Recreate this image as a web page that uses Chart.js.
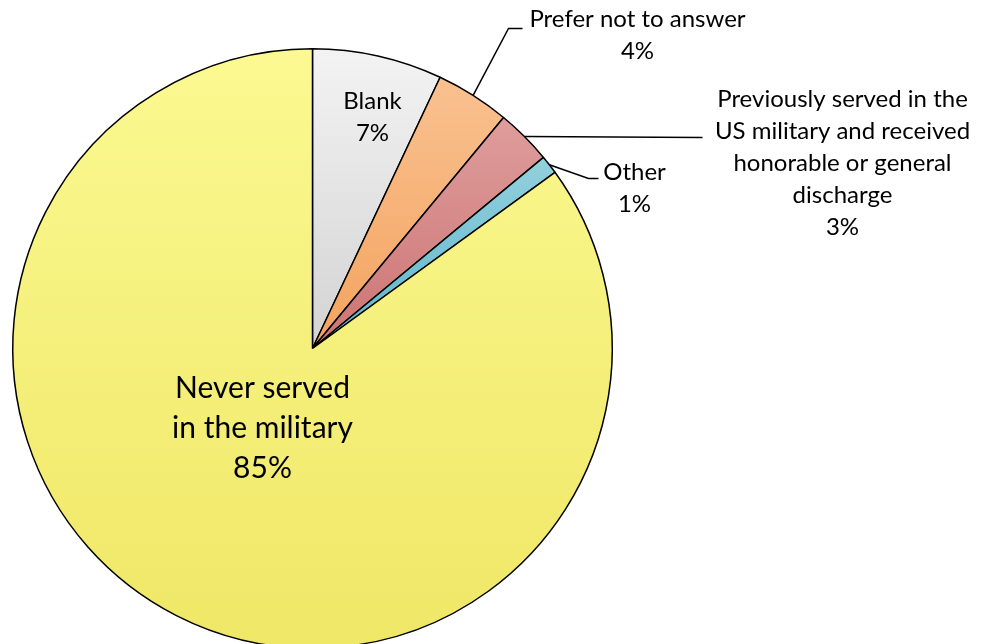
<!DOCTYPE html>
<html>
<head>
<meta charset="utf-8">
<script src="https://cdn.jsdelivr.net/npm/chart.js@4"></script>
<style>
    html, body { margin: 0; padding: 0; background: #fff; overflow: hidden; }
    #chartBox { width: 993px; height: 644px; overflow: hidden; }
</style>
</head>
<body>
<div id="chartBox">
    <canvas id="chart01" width="993" height="700"></canvas>
</div>
<script>
// categories and shares (percent) going clockwise from 12 o'clock
const categories = ['Blank', 'Prefer not to answer', 'Previously served in the US military and received honorable or general discharge', 'Other', 'Never served in the military'];
const shares = [7, 4, 3, 1, 85];
const labelLines = [
    ['Blank', '7%'],
    ['Prefer not to answer', '4%'],
    ['Previously served in the', 'US military and received', 'honorable or general', 'discharge', '3%'],
    ['Other', '1%'],
    ['Never served', 'in the military', '85%']
];

// top / bottom colours of each slice's vertical gradient
const topColors = ['#f3f3f3', '#f9c190', '#de9d9c', '#93d1dd', '#fbf991'];
const bottomColors = ['#d3d3d3', '#f4a35f', '#cd7373', '#5cb4cc', '#efe766'];

// text placement relative to the pie centre: [dx, dy] of the text block centre
const labelPos = [[60, -231], [325, -313], [530, -185], [322, -160], [-50, 80]];
// leader line bends (relative to centre), null = label sits inside the slice
const leaderBends = [null, [[196, -320], [210, -320]], [[390, -211]], [[276, -170], [286, -170]], null];
const fontSizes = [24, 24, 24, 24, 30];

function sliceGradient(context) {
    const chart = context.chart;
    const area = chart.chartArea;
    const i = context.dataIndex;
    if (!area) return topColors[i];
    const cx = (area.left + area.right) / 2;
    const cy = (area.top + area.bottom) / 2;
    const r = (Math.min(area.width, area.height) - 1) / 2;
    const total = shares.reduce((a, b) => a + b, 0);
    let start = 0;
    for (let k = 0; k < i; k++) start += shares[k];
    const a0 = start / total * Math.PI * 2;
    const a1 = (start + shares[i]) / total * Math.PI * 2;
    // vertical extent of the wedge
    let ys = [cy, cy - r * Math.cos(a0), cy - r * Math.cos(a1)];
    if (a0 <= 0 && a1 >= 0) ys.push(cy - r);
    if (a0 <= Math.PI && a1 >= Math.PI) ys.push(cy + r);
    if (a0 <= Math.PI * 2 && a1 >= Math.PI * 2) ys.push(cy - r);
    const y0 = Math.min(...ys);
    const y1 = Math.max(...ys);
    const g = chart.ctx.createLinearGradient(0, y0, 0, y1);
    g.addColorStop(0, topColors[i]);
    g.addColorStop(1, bottomColors[i]);
    return g;
}

const sliceLabels = {
    id: 'sliceLabels',
    afterDatasetsDraw(chart) {
        const ctx = chart.ctx;
        const meta = chart.getDatasetMeta(0);
        ctx.save();
        meta.data.forEach((arc, i) => {
            const cx = arc.x, cy = arc.y;
            const mid = (arc.startAngle + arc.endAngle) / 2;
            const ax = cx + Math.cos(mid) * arc.outerRadius;
            const ay = cy + Math.sin(mid) * arc.outerRadius;

            if (leaderBends[i]) {
                ctx.strokeStyle = '#000';
                ctx.lineWidth = 1.5;
                ctx.beginPath();
                ctx.moveTo(ax, ay);
                leaderBends[i].forEach(p => ctx.lineTo(cx + p[0], cy + p[1]));
                ctx.stroke();
            }

            const size = fontSizes[i];
            const lh = size * 1.33;
            const lines = labelLines[i];
            ctx.fillStyle = '#000';
            ctx.font = `${size}px Lato, "Open Sans", sans-serif`;
            ctx.textAlign = 'center';
            ctx.textBaseline = 'middle';
            const tx = cx + labelPos[i][0];
            const ty = cy + labelPos[i][1] - (lines.length - 1) * lh / 2;
            lines.forEach((line, n) => ctx.fillText(line, tx, ty + n * lh));
        });
        ctx.restore();
    }
};

const ctx01 = document.getElementById('chart01');
const mainChart = new Chart(ctx01, {
    type: 'pie',
    data: {
        labels: categories,
        datasets: [{
            data: shares,
            backgroundColor: sliceGradient,
            borderColor: '#000',
            borderWidth: 1.5
        }]
    },
    options: {
        responsive: false,
        animation: false,
        layout: { padding: { left: 12, top: 48, right: 380, bottom: 51 } },
        plugins: {
            legend: { display: false },
            tooltip: { enabled: false }
        }
    },
    plugins: [sliceLabels]
});
</script>
</body>
</html>
